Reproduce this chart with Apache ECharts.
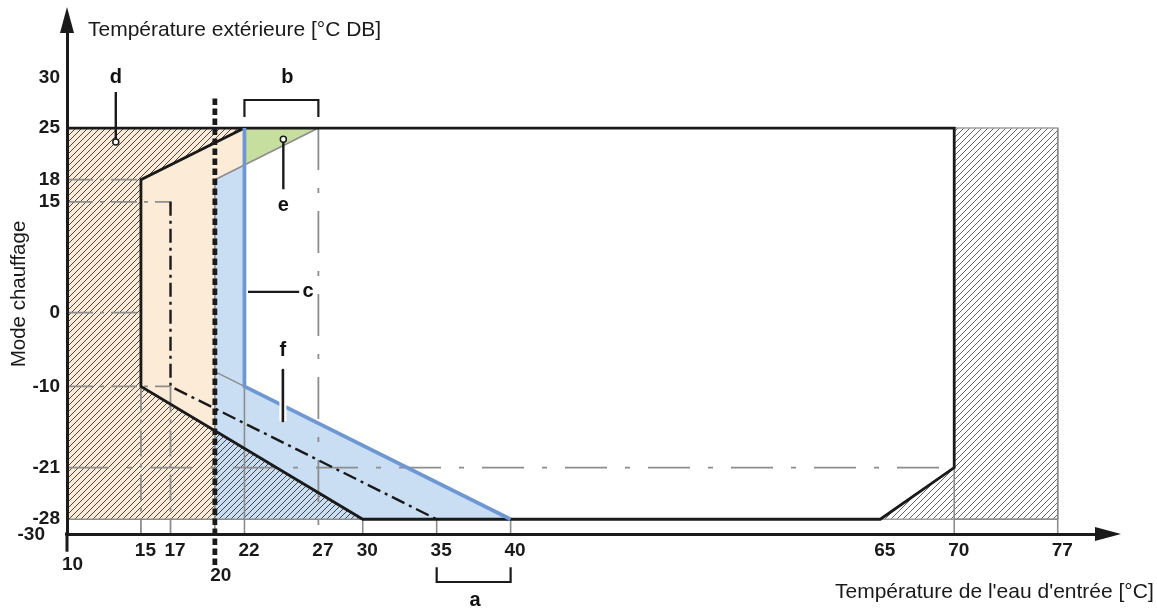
<!DOCTYPE html>
<html>
<head>
<meta charset="utf-8">
<script src="https://cdn.jsdelivr.net/npm/echarts@6/dist/echarts.min.js"></script>
<style>
html, body { margin: 0; padding: 0; background: #fff; }
#chart { width: 1157px; height: 608px; }
</style>
</head>
<body>
<div id="chart"></div>
<script>
// axis ticks
var xTicks = [10, 15, 17, 20, 22, 27, 30, 35, 40, 65, 70, 77];
var yTicks = [-30, -28, -21, -10, 0, 15, 18, 25, 30];

// zones (x = water temp, y = outdoor temp)
var zonePeach = [[10, 25], [22, 25], [22, 20], [20, 18], [20, -28], [10, -28]];
var zoneBlue = [[20, 18], [22, 20], [22, -10], [40, -28], [20, -28]];
var zoneGreen = [[22, 25], [27, 25], [22, 20]];
var zoneD = [[10, 25], [22, 25], [15, 18], [15, -10], [30, -28], [10, -28]];
var zoneRight = [[65, -28], [70, -21], [70, 25], [77, 25], [77, -28]];

// lines
var envelope = [[10, 25], [70, 25], [70, -21], [65, -28], [30, -28], [15, -10], [15, 18], [22, 25]];
var lineC = [[22, 25], [22, -10], [40, -28]];
var dashDot = [[17, 15], [17, -10], [35, -28]];
var dotted20 = [[20, 29], [20, -34.4]];
var guideShort = [
	[[10, 18], [15, 18]],
	[[10, 15], [17, 15], [17, 14.4]],
	[[10, 0], [15, 0]],
	[[10, -10], [17, -10]],
	[[15, -10], [15, -30]],
	[[17, -10], [17, -30]]
];
var guideLong = [
	[[10, -21], [70, -21]],
	[[27, 25], [27, -30]]
];
var guideSolid = [
	[[20, 18], [20, -30]],
	[[22, -10], [22, -30]],
	[[30, -28], [30, -30]],
	[[35, -28], [35, -30]],
	[[40, -28], [40, -30]],
	[[70, -21], [70, -30]],
	[[77, 25], [77, -30]],
	[[10, -28], [30, -28]],
	[[70, -28], [77, -28]],
	[[20, 18], [27, 25]],
	[[20, -8], [22, -10]]
];
var bracketB = [[22, 26.5], [22, 28.8], [27, 28.8], [27, 26.5]];
var bracketA = [[35, -34.5], [35, -36.5], [40, -36.5], [40, -34.5]];
var axisExt = [[[8.6, -30], [10, -30]], [[10, -30], [10, -32.4]]];

// annotation letters and leaders
var letters = ['a', 'b', 'c', 'd', 'e', 'f'];
var letterPos = [[37.6, -39], [24.9, 31.8], [26.3, 2.8], [13.3, 31.8], [24.63, 14.5], [24.6, -5.1]];
var leaderC = [[22.24, 2.8], [25.7, 2.8]];
var leaderD = [[13.3, 29.9], [13.3, 23.1]];
var leaderE = [[24.63, 23.5], [24.63, 16.7]];
var leaderF = [[24.6, -7.8], [24.6, -14.7]];

var yTitle = 'Température extérieure [°C DB]';
var yName = 'Mode chauffage';
var xTitle = "Température de l'eau d'entrée [°C]";

var FONT = '"Liberation Sans", Arial, sans-serif';

function hatch(color) {
	var c = document.createElement('canvas');
	c.width = 6; c.height = 6;
	var g = c.getContext('2d');
	g.strokeStyle = color;
	g.lineWidth = 0.9;
	g.beginPath();
	g.moveTo(0, 6); g.lineTo(6, 0);
	g.moveTo(-3, 3); g.lineTo(3, -3);
	g.moveTo(3, 9); g.lineTo(9, 3);
	g.stroke();
	return c;
}

function poly(pts, style, z) {
	return {
		type: 'custom',
		coordinateSystem: 'cartesian2d',
		silent: true,
		z: z,
		data: [pts[0]],
		renderItem: function (params, api) {
			return {
				type: 'polygon',
				shape: { points: pts.map(function (p) { return api.coord(p); }) },
				style: style
			};
		}
	};
}

function line(pts, color, width, type, z, extra) {
	var s = {
		type: 'line',
		data: pts,
		symbol: 'none',
		silent: true,
		animation: false,
		z: z,
		lineStyle: { color: color, width: width, type: type || 'solid', cap: 'butt', join: 'miter' }
	};
	for (var k in extra || {}) s[k] = extra[k];
	return s;
}

var GREY = '#8d8d8d';
var series = [];
series.push(poly(zonePeach, { fill: '#fcebd6' }, 1));
series.push(poly(zoneBlue, { fill: '#c9def3' }, 1));
series.push(poly(zoneGreen, { fill: '#c6df9f' }, 1));
series.push(poly(zoneD, { fill: { image: hatch('#333'), repeat: 'repeat' } }, 2));
series.push(poly(zoneRight, { fill: { image: hatch('#555'), repeat: 'repeat' }, stroke: '#a0a0a0', lineWidth: 1.5 }, 2));
guideSolid.forEach(function (p) { series.push(line(p, GREY, 1.6, 'solid', 3)); });
guideShort.forEach(function (p) { series.push(line(p, GREY, 1.8, [26, 7, 4, 7], 3)); });
guideLong.forEach(function (p) { series.push(line(p, GREY, 1.8, [42, 18, 5, 18], 3)); });
series.push(line(envelope, '#1a1a1a', 2.8, 'solid', 5));
series.push(line(lineC, '#6f97d4', 3.8, 'solid', 6));
series.push(line(dashDot, '#1a1a1a', 2.4, [14, 5, 3, 5], 6));
series.push(line(dotted20, '#1a1a1a', 4.8, [6.5, 3.5], 7, { clip: false }));
series.push(line(bracketB, '#1a1a1a', 2.2, 'solid', 7, { clip: false }));
series.push(line(bracketA, '#1a1a1a', 2.2, 'solid', 7, { clip: false }));
axisExt.forEach(function (p) { series.push(line(p, '#1a1a1a', 3, 'solid', 7, { clip: false })); });
series.push(line(leaderC, '#1a1a1a', 2.4, 'solid', 8));
series.push(line(leaderD, '#1a1a1a', 2.4, 'solid', 8));
series.push(line(leaderE, '#1a1a1a', 2.4, 'solid', 8));
series.push(line(leaderF, '#ffffff', 7, 'solid', 8));
var fLine = line(leaderF, '#1a1a1a', 2.6, 'solid', 9);
fLine.lineStyle.cap = 'round';
series.push(fLine);
series.push({
	type: 'scatter',
	silent: true,
	z: 10,
	symbol: 'circle',
	symbolSize: 6,
	itemStyle: { color: '#fff', borderColor: '#1a1a1a', borderWidth: 1.5, opacity: 1 },
	data: [leaderD[1], leaderE[0]]
});
series.push({
	type: 'scatter',
	silent: true,
	clip: false,
	z: 10,
	symbolSize: 1,
	itemStyle: { color: 'rgba(255,255,255,0)', opacity: 1 },
	label: {
		show: true,
		position: 'inside',
		formatter: '{b}',
		color: '#111',
		textBorderWidth: 0,
		fontFamily: FONT,
		fontWeight: 'bold',
		fontSize: 20
	},
	data: letters.map(function (l, i) { return { name: l, value: letterPos[i] }; })
});

var tickFont = { fontFamily: FONT, fontWeight: 'bold', fontSize: 19, color: '#1a1a1a' };
function rs(pad) {
	var o = { padding: pad };
	for (var k in tickFont) o[k] = tickFont[k];
	return o;
}

// -30 and -28 sit very close: list -30 last so the min/max overlap check keeps both
var yLabelOrder = yTicks.slice(1).concat(yTicks[0]);

var option = {
	backgroundColor: '#fff',
	animation: false,
	grid: { left: 67, right: 49, top: 20, bottom: 74 },
	xAxis: {
		type: 'value',
		min: 10,
		max: 80.4,
		z: 20,
		splitLine: { show: false },
		axisTick: { show: false },
		axisLine: {
			show: true,
			onZero: false,
			symbol: ['none', 'triangle'],
			symbolSize: [14, 26],
			lineStyle: { color: '#1a1a1a', width: 3 }
		},
		axisLabel: {
			customValues: xTicks,
			showMinLabel: true,
			margin: 7,
			fontFamily: FONT, fontWeight: 'bold', fontSize: 19, color: '#1a1a1a',
			formatter: function (v) {
				if (v === 10) return '{p10|10}';
				if (v === 20) return '{p20|20}';
				return '{n|' + v + '}';
			},
			rich: {
				n: rs([0, 0, 0, 9]),
				p10: rs([14, 0, 0, 11]),
				p20: rs([25, 0, 0, 12])
			}
		}
	},
	yAxis: {
		type: 'value',
		min: -30,
		max: 39.64,
		z: 20,
		splitLine: { show: false },
		axisTick: { show: false },
		axisLine: {
			show: true,
			onZero: false,
			symbol: ['none', 'triangle'],
			symbolSize: [14, 26],
			lineStyle: { color: '#1a1a1a', width: 3 }
		},
		axisLabel: {
			customValues: yLabelOrder,
			hideOverlap: false,
			margin: 7,
			fontFamily: FONT, fontWeight: 'bold', fontSize: 19, color: '#1a1a1a',
			formatter: function (v) {
				if (v === 30) return '{up|30}';
				if (v === -30) return '{lf|-30}';
				return '{n|' + v + '}';
			},
			rich: {
				n: rs([0, 0, 0, 0]),
				up: rs([0, 0, 26, 0]),
				lf: rs([2, 15, 0, 0])
			}
		}
	},
	graphic: [
		{ type: 'text', left: 88, top: 20, style: { text: yTitle, font: '21px ' + FONT, fill: '#1a1a1a' } },
		{ type: 'text', left: 835, top: 582, style: { text: xTitle, font: '21px ' + FONT, fill: '#1a1a1a' } },
		{ type: 'text', x: 19, y: 294, rotation: Math.PI / 2, style: { text: yName, font: '20.5px ' + FONT, fill: '#1a1a1a', textAlign: 'center', textVerticalAlign: 'middle', verticalAlign: 'middle' } }
	],
	series: series
};

var chart = echarts.init(document.getElementById('chart'));
chart.setOption(option);
</script>
</body>
</html>
